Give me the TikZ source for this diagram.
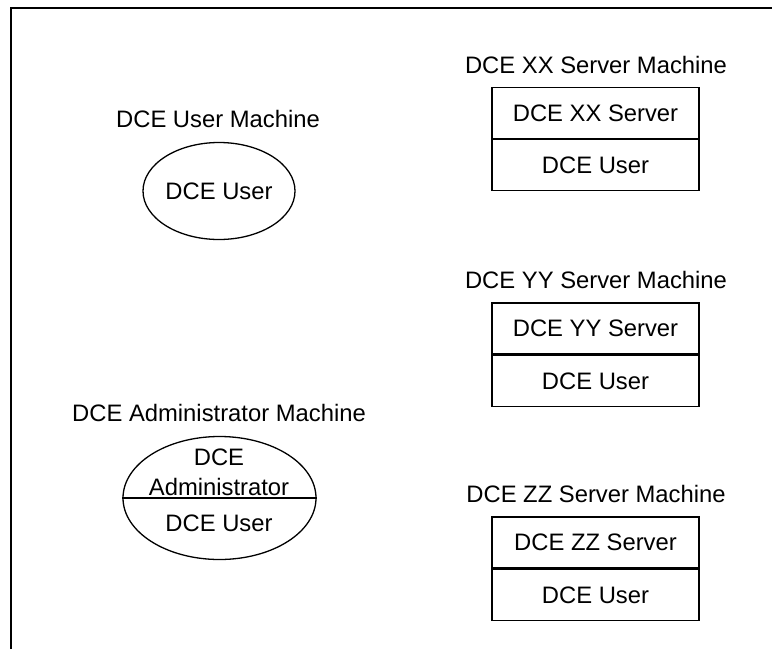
\documentclass[tikz,border=0pt]{standalone}
\usepackage{fontspec}
\setmainfont{Liberation Sans}
\usetikzlibrary{shapes.geometric}
\tikzset{
  lbl/.style={font=\fontsize{23.8}{30}\selectfont, inner sep=0pt},
  srvpart/.style={lbl, draw, line width=1.3pt, minimum width=207pt, minimum height=51pt},
  mach/.style={lbl, draw, ellipse, line width=1.3pt},
}
\begin{document}
\begin{tikzpicture}[x=1pt, y=-1pt]
        \useasboundingbox (0,0) rectangle (772,649);
        \draw[line width=2pt] (10.5,649) -- (10.5,7.5) -- (772,7.5);
        % user machine
        \node[lbl] (usrtitle) at (218,119) {DCE User Machine};
        \node[mach, minimum width=152pt, minimum height=97pt] (usr) at (219,191) {DCE User};
        % administrator machine
        \node[lbl] (admtitle) at (219,413) {DCE Administrator Machine};
        \node[mach, minimum width=193pt, minimum height=123pt] (adm) at (219.5,498) {};
        \draw[line width=1.3pt] (adm.west) -- (adm.east);
        \node[lbl, align=center] (admtop) at (219,472) {DCE\\Administrator};
        \node[lbl] (admusr) at (219,523) {DCE User};
        % server machines
        \node[lbl] (xxtitle) at (596,65) {DCE XX Server Machine};
        \node[srvpart] (xxsrv) at (595.5,113) {DCE XX Server};
        \node[srvpart, anchor=north] (xxusr) at (xxsrv.south) {DCE User};
        \node[lbl] (yytitle) at (596,280) {DCE YY Server Machine};
        \node[srvpart] (yysrv) at (595.5,328.5) {DCE YY Server};
        \node[srvpart, anchor=north] (yyusr) at (yysrv.south) {DCE User};
        \node[lbl] (zztitle) at (596,494) {DCE ZZ Server Machine};
        \node[srvpart] (zzsrv) at (595.5,542.5) {DCE ZZ Server};
        \node[srvpart, anchor=north] (zzusr) at (zzsrv.south) {DCE User};
    \end{tikzpicture}
\end{document}
